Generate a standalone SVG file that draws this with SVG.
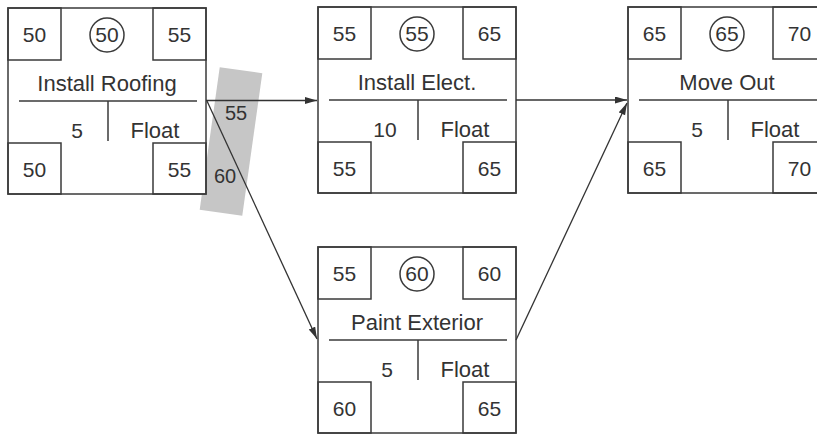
<svg xmlns="http://www.w3.org/2000/svg" width="817" height="434" viewBox="0 0 817 434">
<style>
.fr{fill:#fff;stroke:#3a3a3a;stroke-width:1.5}
.ln{fill:none;stroke:#3a3a3a;stroke-width:1.5}
.cn{fill:none;stroke:#333;stroke-width:1.3}
text{font-family:"Liberation Sans",Arial,sans-serif;fill:#333;text-anchor:middle}
.n{font-size:21px}
.t{font-size:22px}
.lb{font-size:20px}
</style>
<defs>
<marker id="ah" markerUnits="userSpaceOnUse" markerWidth="13" markerHeight="8" refX="12" refY="3.5" orient="auto">
<path d="M0,0 L12,3.5 L0,7 Z" fill="#333"/>
</marker>
<g id="frame">
<rect class="fr" x="0" y="0" width="198" height="186"/>
<rect class="ln" x="0" y="0" width="53" height="52"/>
<rect class="ln" x="145" y="0" width="53" height="52"/>
<rect class="ln" x="0" y="135" width="53" height="51"/>
<rect class="ln" x="145" y="135" width="53" height="51"/>
<line class="ln" x1="11" y1="93" x2="189" y2="93"/>
<line class="ln" x1="100" y1="93" x2="100" y2="133"/>
<circle class="ln" cx="99" cy="27" r="17"/>
</g>
</defs>
<rect x="-21.5" y="-72" width="43" height="144" fill="#c6c6c6" transform="translate(231,141.5) rotate(8)"/>
<g id="node-roofing" transform="translate(8,8)">
<use href="#frame"/>
<text class="n" x="26.5" y="34">50</text>
<text class="n" x="99" y="34">50</text>
<text class="n" x="171.5" y="34">55</text>
<text class="t" x="99" y="83">Install Roofing</text>
<text class="n" x="69" y="130">5</text>
<text class="t" x="147" y="130">Float</text>
<text class="n" x="26.5" y="169">50</text>
<text class="n" x="171.5" y="169">55</text>
</g>
<g id="node-elect" transform="translate(318,7)">
<use href="#frame"/>
<text class="n" x="26.5" y="34">55</text>
<text class="n" x="99" y="34">55</text>
<text class="n" x="171.5" y="34">65</text>
<text class="t" x="99" y="83">Install Elect.</text>
<text class="n" x="67" y="130">10</text>
<text class="t" x="147" y="130">Float</text>
<text class="n" x="26.5" y="169">55</text>
<text class="n" x="171.5" y="169">65</text>
</g>
<g id="node-moveout" transform="translate(628,7)">
<use href="#frame"/>
<text class="n" x="26.5" y="34">65</text>
<text class="n" x="99" y="34">65</text>
<text class="n" x="171.5" y="34">70</text>
<text class="t" x="99" y="83">Move Out</text>
<text class="n" x="69" y="130">5</text>
<text class="t" x="147" y="130">Float</text>
<text class="n" x="26.5" y="169">65</text>
<text class="n" x="171.5" y="169">70</text>
</g>
<g id="node-paint" transform="translate(318,247)">
<use href="#frame"/>
<text class="n" x="26.5" y="34">55</text>
<text class="n" x="99" y="34">60</text>
<text class="n" x="171.5" y="34">60</text>
<text class="t" x="99" y="83">Paint Exterior</text>
<text class="n" x="69" y="130">5</text>
<text class="t" x="147" y="130">Float</text>
<text class="n" x="26.5" y="169">60</text>
<text class="n" x="171.5" y="169">65</text>
</g>
<g id="connectors">
<line class="cn" x1="206" y1="100.5" x2="317" y2="100.5" marker-end="url(#ah)"/>
<line class="cn" x1="207" y1="101" x2="317" y2="339" marker-end="url(#ah)"/>
<line class="cn" x1="516" y1="100" x2="627" y2="100" marker-end="url(#ah)"/>
<line class="cn" x1="516" y1="340" x2="627" y2="103" marker-end="url(#ah)"/>
<text class="lb" x="236" y="120">55</text>
<text class="lb" x="225" y="183">60</text>
</g>
</svg>
